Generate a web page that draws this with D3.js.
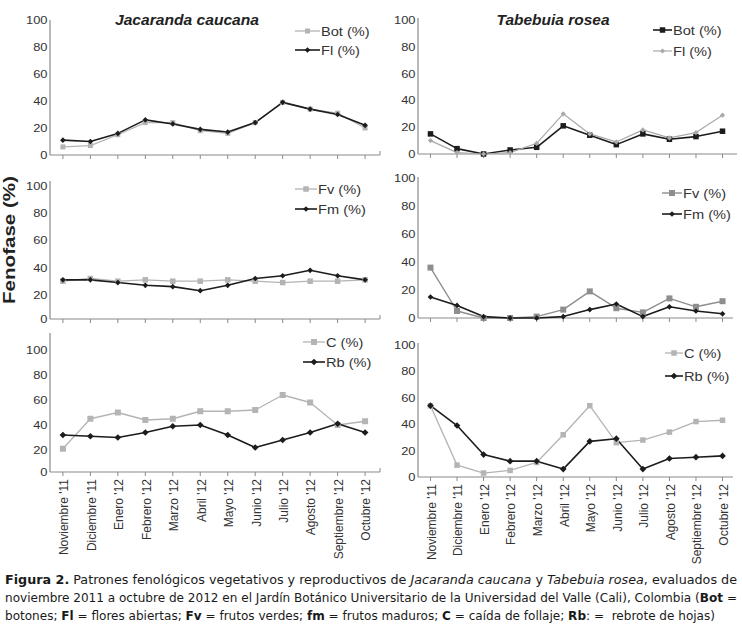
<!DOCTYPE html>
<html><head><meta charset="utf-8">
<script src="https://cdn.jsdelivr.net/npm/d3@7"></script>
<style>body{margin:0;background:#fff}svg{display:block}
.ff{font-family:'Liberation Sans', Arimo, Arial, Helvetica, sans-serif}
.cap{font-family:'DejaVu Sans Condensed', 'DejaVu Sans', sans-serif; font-stretch:condensed}
</style>
</head><body>
<svg id="c" width="742" height="627"></svg>
<script>
// ---- data ----
const months = ["Noviembre '11","Diciembre '11","Enero '12","Febrero '12","Marzo '12","Abril '12","Mayo '12","Junio '12","Julio '12","Agosto '12","Septiembre '12","Octubre '12"];
const yTicks = [0,20,40,60,80,100];
const titles = ["Jacaranda caucana","Tabebuia rosea"];
const jcBot = [6,7,15,24,24,18,16,24,39,34,31,20];
const jcFl  = [11,10,16,26,23,19,17,24,39,34,30,22];
const trBot = [15,4,0,3,5,21,14,7,15,11,13,17];
const trFl  = [10,1,0,1,8,30,15,9,18,12,16,29];
const jcFv  = [30,32,30,31,30,30,31,30,29,30,30,31];
const jcFm  = [31,31,29,27,26,23,27,32,34,38,34,31];
const trFv  = [36,5,0,0,1,6,19,7,4,14,8,12];
const trFm  = [15,9,1,0,0,1,6,10,1,8,5,3];
const jcC   = [21,45,50,44,45,51,51,52,64,58,40,43];
const jcRb  = [32,31,30,34,39,40,32,22,28,34,41,34];
const trC   = [54,9,3,5,11,32,54,26,28,34,42,43];
const trRb  = [54,39,17,12,12,6,27,29,6,14,15,16];

// ---- styles ----
const LIGHT = "#b4b4b4", MID = "#8e8e8e", GRAYD = "#a9a9a9", DARK = "#1c1c1c";
const AX = "#8a8a8a", TXT = "#333";
const SX = 1.17;

const svg = d3.select("#c");
svg.append("rect").attr("width",742).attr("height",627).attr("fill","#fff");

const xLeft = d3.scalePoint().domain(months).range([50,378]).padding(0.47);
const xRight = d3.scalePoint().domain(months).range([418,735]).padding(0.47);

function txt(g, x, y, s, o) {
  const t = g.append("text").attr("class","ff")
    .attr("transform", `translate(${x},${y}) scale(${o.sx===undefined?SX:o.sx},1)`)
    .attr("text-anchor", o.anchor || "start")
    .attr("font-size", o.size || 12)
    .attr("font-weight", o.weight || "normal")
    .attr("font-style", o.style || "normal")
    .attr("fill", o.fill || TXT)
    .text(s);
  if (o.dy) t.attr("dy", o.dy);
  if (o.len) t.attr("textLength", o.len).attr("lengthAdjust","spacingAndGlyphs");
  return t;
}

function marker(g, shape, x, y, size, color) {
  if (shape === "square") {
    g.append("rect").attr("x", x-size/2).attr("y", y-size/2).attr("width", size).attr("height", size).attr("fill", color);
  } else {
    const r = size/2 + 0.6;
    g.append("path").attr("d", `M${x},${y-r}L${x+r},${y}L${x},${y+r}L${x-r},${y}Z`).attr("fill", color);
  }
}

const panels = [
  { x: xLeft, axisEnd: 380, endTick: true, y0: 155, y100: 20, yTop: 20,
    series: [
      {name:"Bot (%)", vals: jcBot, color: LIGHT, shape:"square", size:5, sw:1.3},
      {name:"Fl (%)",  vals: jcFl,  color: DARK,  shape:"diamond", size:4.5, sw:1.6}],
    leg: {l1:295, l2:320, tx:321, ys:[31,50]}, title: {t: titles[0], cx:187, y:25, len:144} },
  { x: xRight, axisEnd: 737, y0: 154, y100: 20, yTop: 18,
    series: [
      {name:"Bot (%)", vals: trBot, color: DARK,  shape:"square", size:5.5, sw:1.6},
      {name:"Fl (%)",  vals: trFl,  color: GRAYD, shape:"diamond", size:4, sw:1.2}],
    leg: {l1:653, l2:672, tx:673, ys:[30,51]}, title: {t: titles[1], cx:553, y:25, len:113} },
  { x: xLeft, axisEnd: 380, endTick: true, y0: 322, y100: 186, yTop: 181, axisY: 319,
    series: [
      {name:"Fv (%)", vals: jcFv, color: LIGHT, shape:"square", size:5.5, sw:1.3},
      {name:"Fm (%)", vals: jcFm, color: DARK,  shape:"diamond", size:4.5, sw:1.6}],
    leg: {l1:295, l2:317, tx:318, ys:[189,209]} },
  { x: xRight, axisEnd: 733, y0: 318, y100: 178, yTop: 177,
    series: [
      {name:"Fv (%)", vals: trFv, color: MID,  shape:"square", size:6, sw:1.4},
      {name:"Fm (%)", vals: trFm, color: DARK, shape:"diamond", size:4.5, sw:1.6}],
    leg: {l1:662, l2:682, tx:683, ys:[193,214]} },
  { x: xLeft, axisEnd: 380, endTick: true, y0: 475, y100: 350, yTop: 333, axisY: 472, labels: true,
    series: [
      {name:"C (%)",  vals: jcC,  color: LIGHT, shape:"square", size:6, sw:1.3},
      {name:"Rb (%)", vals: jcRb, color: DARK,  shape:"diamond", size:5.5, sw:1.6}],
    leg: {l1:303, l2:325, tx:326, ys:[342,362]} },
  { x: xRight, axisEnd: 733, y0: 477, y100: 345, yTop: 343, labels: true,
    series: [
      {name:"C (%)",  vals: trC,  color: LIGHT, shape:"square", size:5.5, sw:1.3},
      {name:"Rb (%)", vals: trRb, color: DARK,  shape:"diamond", size:5.5, sw:1.6}],
    leg: {l1:665, l2:683, tx:684, ys:[353,376]} }
];

panels.forEach(p => {
  const g = svg.append("g");
  const y = d3.scaleLinear().domain([0,100]).range([p.y0, p.y100]);
  const ax0 = p.x.range()[0];
  const axisY = p.axisY !== undefined ? p.axisY : p.y0;
  g.append("line").attr("x1", ax0).attr("x2", ax0).attr("y1", axisY).attr("y2", p.yTop)
    .attr("stroke", AX).attr("stroke-width", 1.2);
  g.append("line").attr("x1", ax0).attr("x2", p.axisEnd).attr("y1", axisY).attr("y2", axisY)
    .attr("stroke", AX).attr("stroke-width", 1.2);
  if (p.endTick) g.append("line").attr("x1", p.axisEnd).attr("x2", p.axisEnd).attr("y1", axisY).attr("y2", axisY-4)
    .attr("stroke", AX).attr("stroke-width", 1);
  months.forEach(m => {
    g.append("line").attr("x1", p.x(m)).attr("x2", p.x(m)).attr("y1", axisY).attr("y2", axisY+4)
      .attr("stroke", AX).attr("stroke-width", 1);
  });
  yTicks.forEach(t => {
    const ty = t === 0 ? axisY : y(t);
    txt(g, ax0 - 2.5, ty, String(t), {size: 11, anchor: "end", dy: "0.36em"});
  });
  p.series.forEach(s => {
    const line = d3.line().x((d,i) => p.x(months[i])).y(d => y(d));
    g.append("path").datum(s.vals).attr("d", line).attr("fill","none")
      .attr("stroke", s.color).attr("stroke-width", s.sw).attr("stroke-linejoin","round");
  });
  p.series.forEach(s => {
    s.vals.forEach((v,i) => marker(g, s.shape, p.x(months[i]), y(v), s.size, s.color));
  });
  p.series.forEach((s,k) => {
    const ly = p.leg.ys[k];
    g.append("line").attr("x1", p.leg.l1).attr("x2", p.leg.l2).attr("y1", ly).attr("y2", ly)
      .attr("stroke", s.color).attr("stroke-width", s.sw);
    marker(g, s.shape, (p.leg.l1+p.leg.l2)/2, ly, s.size, s.color);
    txt(g, p.leg.tx, ly + 4.6, s.name, {size: 12.5});
  });
  if (p.title) {
    txt(g, p.title.cx, p.title.y, p.title.t, {size: 15.5, weight:"bold", style:"italic", fill:"#222", sx:1, len:p.title.len})
      .attr("x", -p.title.len/2);
  }
  if (p.labels) {
    months.forEach(m => {
      g.append("text").attr("class","ff")
        .attr("transform", `translate(${p.x(m)+1},${axisY+7}) rotate(-90)`)
        .attr("text-anchor","end").attr("dy","0.36em")
        .attr("font-size",12)
        .attr("fill", TXT).text(m);
    });
  }
});

// y axis title
svg.append("text").attr("class","ff").attr("transform","translate(15,240) rotate(-90)")
  .attr("x", -64)
  .attr("font-size",17).attr("font-weight","bold").attr("fill","#222")
  .attr("textLength",128).attr("lengthAdjust","spacingAndGlyphs").text("Fenofase (%)");

// caption
const capLines = [
  [["Figura 2.","b"],[" Patrones fenológicos vegetativos y reproductivos de ",""],["Jacaranda caucana","i"],[" y ",""],["Tabebuia rosea","i"],[", evaluados de",""]],
  [["noviembre 2011 a octubre de 2012 en el Jardín Botánico Universitario de la Universidad del Valle (Cali), Colombia (",""],["Bot","b"],[" =",""]],
  [["botones; ",""],["Fl","b"],[" = flores abiertas; ",""],["Fv","b"],[" = frutos verdes; ",""],["fm","b"],[" = frutos maduros; ",""],["C","b"],[" = caída de follaje; ",""],["Rb","b"],[": =  rebrote de hojas)",""]]
];
const capY = [584, 602, 620];
const capLen = [732, 732, 710];
capLines.forEach((ln, i) => {
  const t = svg.append("text").attr("class","cap").attr("x", 5).attr("y", capY[i])
    .attr("font-size", 12.5).attr("fill", "#1a1a1a")
    .attr("textLength", capLen[i]).attr("lengthAdjust", "spacingAndGlyphs")
    .attr("xml:space","preserve");
  ln.forEach(([s, f]) => {
    const sp = t.append("tspan").text(s);
    if (f === "b") sp.attr("font-weight", "bold");
    if (f === "i") sp.attr("font-style", "italic");
  });
});
</script>
</body></html>
